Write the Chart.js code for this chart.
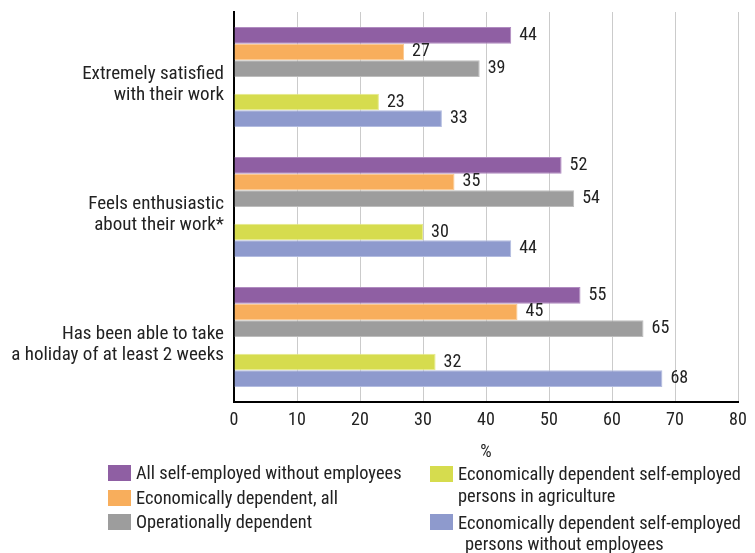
<!DOCTYPE html>
<html>
<head>
<meta charset="utf-8">
<script src="https://cdn.jsdelivr.net/npm/chart.js@4"></script>
<style>
    body { margin: 0; background: #fff; font-family: 'Roboto Condensed', 'DejaVu Sans Condensed', sans-serif; }
    #wrap { position: relative; width: 755px; height: 553px; }
    #chartBox { position: absolute; left: 0; top: 0; width: 755px; height: 465px; }
    .leg { position: absolute; font-size: 18.4px; color: #222; white-space: nowrap; }
    .sw { position: absolute; width: 23px; height: 16px; }
</style>
</head>
<body>
<div id="wrap">
    <div id="chartBox"><canvas id="satChart"></canvas></div>
    <div id="legend"></div>
</div>
<script>
    const categories = [
        ['Extremely satisfied', 'with their work'],
        ['Feels enthusiastic', 'about their work*'],
        ['Has been able to take', 'a holiday of at least 2 weeks']
    ];
    const seriesNames = [
        'All self-employed without employees',
        'Economically dependent, all',
        'Operationally dependent',
        'Economically dependent self-employed persons in agriculture',
        'Economically dependent self-employed persons without employees'
    ];
    const allSelfEmployed = [44, 52, 55];
    const econDependentAll = [27, 35, 45];
    const operationallyDependent = [39, 54, 65];
    const econDepAgriculture = [23, 30, 32];
    const econDepNoEmployees = [33, 44, 68];
    const xTicks = [0, 10, 20, 30, 40, 50, 60, 70, 80];

    const colors = ['#8f5fa3', '#f8ae5c', '#9d9d9d', '#d6dc4e', '#8e9acd'];
    const borders = ['#b08bc0', '#fbc88f', '#bdbdbd', '#e6ea8a', '#b3bce0'];
    const fontFam = "'Roboto Condensed', 'DejaVu Sans Condensed', sans-serif";

    const values = [allSelfEmployed, econDependentAll, operationallyDependent, econDepAgriculture, econDepNoEmployees];
    const datasets = values.map(function(v, i) {
        return {
            label: seriesNames[i],
            data: v,
            backgroundColor: colors[i],
            borderColor: borders[i],
            borderWidth: 1,
            barPercentage: 1.0,
            categoryPercentage: 0.77
        };
    });
    // empty slot between the third and fourth bar of each group
    datasets.splice(3, 0, {
        label: 'spacer',
        data: [null, null, null],
        backgroundColor: 'rgba(0,0,0,0)',
        barPercentage: 1.0,
        categoryPercentage: 0.77
    });

    const valueLabels = {
        id: 'valueLabels',
        afterDatasetsDraw(chart) {
            const ctx = chart.ctx;
            ctx.save();
            ctx.font = '18px ' + fontFam;
            ctx.fillStyle = '#222';
            ctx.textAlign = 'left';
            ctx.textBaseline = 'middle';
            chart.data.datasets.forEach(function(ds, di) {
                if (ds.label === 'spacer') return;
                chart.getDatasetMeta(di).data.forEach(function(bar, i) {
                    ctx.fillText(ds.data[i], bar.x + 8, bar.y);
                });
            });
            ctx.restore();
        }
    };

    const ctx = document.getElementById('satChart').getContext('2d');
    new Chart(ctx, {
        type: 'bar',
        data: { labels: categories, datasets: datasets },
        plugins: [valueLabels],
        options: {
            indexAxis: 'y',
            responsive: true,
            maintainAspectRatio: false,
            animation: false,
            layout: { padding: { top: 12, right: 17, left: 0, bottom: 0 } },
            plugins: {
                legend: { display: false },
                tooltip: { enabled: false }
            },
            scales: {
                x: {
                    min: 0,
                    max: 80,
                    afterBuildTicks: function(scale) {
                        scale.ticks = xTicks.map(function(v) { return { value: v }; });
                    },
                    grid: { color: '#cbcbcb', lineWidth: 1, drawTicks: false },
                    border: { color: '#000', width: 2 },
                    ticks: { color: '#222', padding: 8, font: { family: fontFam, size: 18 } },
                    title: { display: true, text: '%', color: '#222', padding: { top: 0, bottom: 2 }, font: { family: fontFam, size: 18 } },
                    afterFit: function(scale) { scale.height = 63; }
                },
                y: {
                    grid: { display: false, drawTicks: false },
                    border: { color: '#000', width: 2 },
                    ticks: { color: '#222', padding: 10, labelOffset: 8, font: { family: fontFam, size: 19, lineHeight: 1.1 } },
                    afterFit: function(scale) {
                        scale.width = 234;
                        scale.paddingTop = 0;
                        scale.paddingBottom = 0;
                    }
                }
            }
        }
    });

    // HTML legend, two columns as in the original
    const legendItems = [
        { c: 0, x: 108, y: 465, lh: 22, lines: [seriesNames[0]] },
        { c: 1, x: 108, y: 490, lh: 22, lines: [seriesNames[1]] },
        { c: 2, x: 108, y: 514, lh: 22, lines: [seriesNames[2]] },
        { c: 3, x: 430, y: 466, lh: 22, lines: ['Economically dependent self-employed', 'persons in agriculture'] },
        { c: 4, x: 430, y: 514, lh: 21, lines: ['Economically dependent self-employed', '<span style="margin-left:7px">persons without employees</span>'] }
    ];
    const legendEl = document.getElementById('legend');
    legendItems.forEach(function(it) {
        const sw = document.createElement('div');
        sw.className = 'sw';
        sw.style.left = it.x + 'px';
        sw.style.top = it.y + 'px';
        sw.style.background = colors[it.c];
        legendEl.appendChild(sw);
        const tx = document.createElement('div');
        tx.className = 'leg';
        tx.style.left = (it.x + 28) + 'px';
        tx.style.lineHeight = it.lh + 'px';
        tx.style.top = (it.y + 8 - it.lh / 2) + 'px';
        tx.innerHTML = it.lines.join('<br>');
        legendEl.appendChild(tx);
    });
</script>
</body>
</html>
